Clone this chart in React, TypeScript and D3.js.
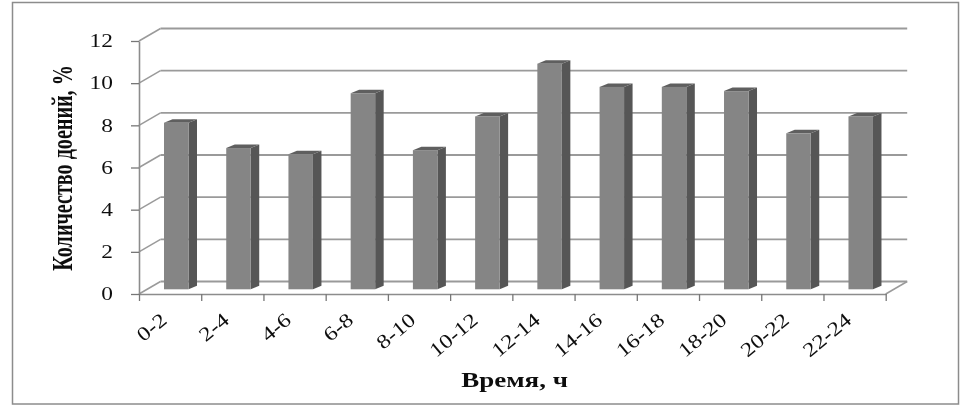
import React, { useEffect, useRef } from 'react';
import * as d3 from 'd3';

const categories = ['0-2', '2-4', '4-6', '6-8', '8-10', '10-12', '12-14', '14-16', '16-18', '18-20', '20-22', '22-24'];
const values = [7.9, 6.7, 6.4, 9.3, 6.6, 8.2, 10.7, 9.6, 9.6, 9.4, 7.4, 8.2];
const yTicks = [0, 2, 4, 6, 8, 10, 12];

const width = 967;
const height = 412;
const depthX = 21.5;
const depthY = -12.5;
const barDepthX = 8.5;
const barDepthY = -3.5;
const barWidth = 24.5;
const barOffset = 25;
const barLift = 4.7;
const font = '"Liberation Serif", serif';
const gridColor = '#9a9a9a';

const App = () => {
  const ref = useRef<HTMLDivElement>(null);

  useEffect(() => {
    d3.select(ref.current).selectAll('*').remove();

    const svg = d3.select(ref.current)
      .append('svg')
      .attr('width', width)
      .attr('height', height)
      .style('position', 'absolute')
      .style('left', 0)
      .style('top', 0)
      .style('background', '#fff');

    // the original is a soft, stretched scan
    svg.append('filter')
      .attr('id', 'soft')
      .append('feGaussianBlur')
      .attr('stdDeviation', 0.55);

    const root = svg.append('g').attr('filter', 'url(#soft)');

    // Frame
    root.append('rect')
      .attr('x', 12.5)
      .attr('y', 2.5)
      .attr('width', 946)
      .attr('height', 401.5)
      .attr('fill', '#fff')
      .attr('stroke', '#8c8c8c')
      .attr('stroke-width', 1.5);

    const x = d3.scaleBand().domain(categories).range([139, 885.7]);
    const y = d3.scaleLinear().domain([0, 12]).range([294, 41]);
    const xEdges = d3.scaleLinear().domain([0, categories.length]).range([139, 885.7]);

    // Back wall gridlines and the diagonals on the side wall
    yTicks.forEach(t => {
      root.append('line')
        .attr('x1', x.range()[0] + depthX)
        .attr('x2', x.range()[1] + depthX)
        .attr('y1', y(t) + depthY)
        .attr('y2', y(t) + depthY)
        .attr('stroke', gridColor)
        .attr('stroke-width', 1.8);
      root.append('line')
        .attr('x1', x.range()[0])
        .attr('x2', x.range()[0] + depthX)
        .attr('y1', y(t))
        .attr('y2', y(t) + depthY)
        .attr('stroke', gridColor)
        .attr('stroke-width', 1.5);
    });

    // Floor edge on the right
    root.append('line')
      .attr('x1', x.range()[1])
      .attr('x2', x.range()[1] + depthX)
      .attr('y1', y(0))
      .attr('y2', y(0) + depthY)
      .attr('stroke', gridColor)
      .attr('stroke-width', 1.5);

    // Bars
    categories.forEach((c, i) => {
      const left = x(c)! + barOffset;
      const right = left + barWidth;
      const bottom = y(0) - barLift;
      const top = y(values[i]) - barLift;
      const g = root.append('g');
      g.append('polygon')
        .attr('points', [[right, bottom], [right + barDepthX, bottom + barDepthY], [right + barDepthX, top + barDepthY], [right, top]].join(' '))
        .attr('fill', '#565656');
      g.append('polygon')
        .attr('points', [[left, top], [left + barDepthX, top + barDepthY], [right + barDepthX, top + barDepthY], [right, top]].join(' '))
        .attr('fill', '#5f5f5f');
      g.append('rect')
        .attr('x', left)
        .attr('y', top)
        .attr('width', barWidth)
        .attr('height', bottom - top)
        .attr('fill', '#858585');
    });

    // Y axis
    const yAxis = root.append('g')
      .attr('transform', `translate(${x.range()[0]},0)`)
      .call(d3.axisLeft(y).tickValues(yTicks).tickSize(8).tickSizeOuter(0));
    yAxis.select('.domain').attr('stroke', '#8c8c8c').attr('stroke-width', 1.6);
    yAxis.selectAll('line').attr('stroke', '#777').attr('stroke-width', 1.3);
    yAxis.selectAll('text')
      .attr('x', 0)
      .attr('transform', 'translate(-26,0) scale(1.3,1)')
      .attr('fill', '#111')
      .style('font-family', font)
      .style('font-size', '18px');

    // X axis, ticks sit between the categories
    const xAxis = root.append('g')
      .attr('transform', `translate(0,${y(0)})`)
      .call(d3.axisBottom(xEdges).tickValues(d3.range(categories.length + 1)).tickFormat(() => '').tickSize(7).tickSizeOuter(0));
    xAxis.select('.domain').attr('stroke', '#8c8c8c').attr('stroke-width', 1.6);
    xAxis.selectAll('line').attr('stroke', '#777').attr('stroke-width', 1.3);

    // Category labels
    categories.forEach(c => {
      const lx = x(c)! + x.bandwidth() / 2 - 2;
      root.append('text')
        .attr('transform', `translate(${lx},322) rotate(-40) scale(1.2,1)`)
        .attr('text-anchor', 'end')
        .attr('fill', '#111')
        .style('font-family', font)
        .style('font-size', '20px')
        .text(c);
    });

    // Axis titles
    root.append('text')
      .attr('transform', 'translate(72,168) rotate(-90) scale(1.06,1.5)')
      .attr('text-anchor', 'middle')
      .attr('fill', '#111')
      .style('font-family', font)
      .style('font-size', '19px')
      .style('font-weight', 'bold')
      .text('Количество доений, %');

    root.append('text')
      .attr('transform', 'translate(514.5,387) scale(1.35,1)')
      .attr('text-anchor', 'middle')
      .attr('fill', '#111')
      .style('font-family', font)
      .style('font-size', '20px')
      .style('font-weight', 'bold')
      .text('Время, ч');
  }, []);

  return <div ref={ref} />;
};

export default App;
